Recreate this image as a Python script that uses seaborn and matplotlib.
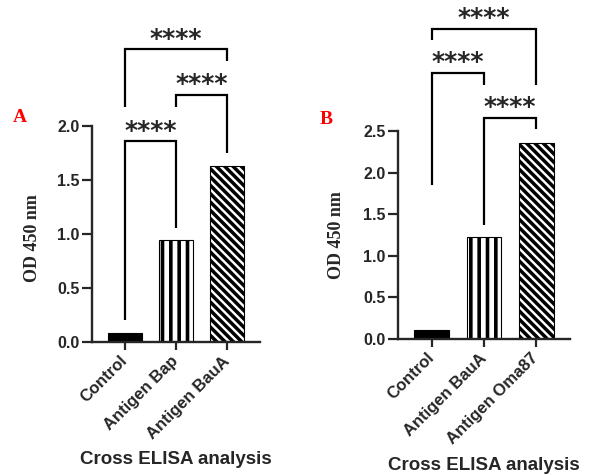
import matplotlib
matplotlib.use("Agg")
import matplotlib.pyplot as plt
import seaborn as sns
import pandas as pd

# ---------------- data ----------------
categories_A = ["Control", "Antigen Bap", "Antigen BauA"]
values_A = [0.085, 0.945, 1.63]
categories_B = ["Control", "Antigen BauA", "Antigen Oma87"]
values_B = [0.11, 1.23, 2.36]
yticks_A = [0.0, 0.5, 1.0, 1.5, 2.0]
yticks_B = [0.0, 0.5, 1.0, 1.5, 2.0, 2.5]
# significance brackets: (bar i, bar j, top, left leg end, right leg end)
brackets_A = [(0, 1, 1.86, 0.20, 1.06), (1, 2, 2.29, 2.18, 1.75), (0, 2, 2.71, 2.18, 2.60)]
brackets_B = [(0, 1, 3.20, 1.85, 3.05), (1, 2, 2.66, 1.37, 2.52), (0, 2, 3.73, 3.59, 3.05)]
sig_label = "****"
ylabel = "OD 450 nm"
xlabel = "Cross ELISA analysis"
panel_labels = ["A", "B"]

# ---------------- style ----------------
sns.set_style("ticks")
plt.rcParams["font.family"] = ["Liberation Sans", "DejaVu Sans"]
plt.rcParams["hatch.linewidth"] = 2.3
plt.rcParams["hatch.color"] = "black"

faces = ["black", "white", "white"]
hatches = ["", "||", "\\\\\\\\"]
hatch_lw = [1.0, 2.6, 2.5]

fig = plt.figure(figsize=(5.9, 4.75), dpi=100)
ax_A = fig.add_axes([92 / 590, (475 - 342) / 475, (260 - 92) / 590, (342 - 126) / 475])
ax_B = fig.add_axes([398 / 590, (475 - 339) / 475, (570 - 398) / 590, (339 - 131) / 475])


def draw(ax, cats, vals, yticks, brackets, xlab_y, ylab_coords):
    df = pd.DataFrame({"cat": cats, "val": vals})
    sns.barplot(data=df, x="cat", y="val", hue="cat", palette=faces, legend=False,
                width=0.67, ax=ax, edgecolor="black", linewidth=0.8, saturation=1)
    for p, h, hl in zip(ax.patches, hatches, hatch_lw):
        p.set_hatch(h)
        if hasattr(p, "set_hatch_linewidth"):
            p.set_hatch_linewidth(hl)
    ax.set_xlim(-0.65, 2.65)
    ax.set_ylim(0, yticks[-1])
    ax.set_yticks(yticks)
    ax.set_yticklabels([f"{t:.1f}" for t in yticks], fontsize=11.5, fontweight="bold")
    ax.set_xticks(range(len(cats)))
    ax.set_xticklabels(cats, rotation=45, ha="right", va="center", rotation_mode="anchor",
                       fontsize=12, fontweight="bold")
    for s in ["top", "right"]:
        ax.spines[s].set_visible(False)
    for s in ["left", "bottom"]:
        ax.spines[s].set_linewidth(1.7)
    ax.tick_params(axis="y", length=7, width=1.6, pad=2)
    ax.tick_params(axis="x", length=6, width=1.6, pad=6)
    ax.set_ylabel(ylabel, family=["Liberation Serif", "DejaVu Serif"], fontweight="bold",
                  fontsize=13, va="center")
    ax.yaxis.set_label_coords(*ylab_coords)
    ax.set_xlabel(xlabel, fontsize=13.5, fontweight="bold", va="center")
    ax.xaxis.set_label_coords(0.5, xlab_y)
    for i, j, top, l_end, r_end in brackets:
        ax.plot([i, i, j, j], [l_end, top, top, r_end], color="black", lw=1.6,
                clip_on=False, solid_joinstyle="miter", solid_capstyle="butt")
        ax.annotate(sig_label, xy=((i + j) / 2, top), xytext=(0, 7.5), textcoords="offset points",
                    ha="center", va="center", fontsize=18, fontweight="heavy",
                    family="DejaVu Sans", annotation_clip=False)


draw(ax_A, categories_A, values_A, yticks_A, brackets_A, (342 - 460) / 216, (-0.357, 0.48))
draw(ax_B, categories_B, values_B, yticks_B, brackets_B, (339 - 466) / 208, (-0.355, 0.5))

fig.text(20 / 590, 1 - 118 / 475, panel_labels[0], color="red", fontsize=14, fontweight="bold",
         family=["Liberation Serif", "DejaVu Serif"], ha="center", va="center")
fig.text(326 / 590, 1 - 120 / 475, panel_labels[1], color="red", fontsize=14, fontweight="bold",
         family=["Liberation Serif", "DejaVu Serif"], ha="center", va="center")

fig.savefig("out.png", dpi=100)
